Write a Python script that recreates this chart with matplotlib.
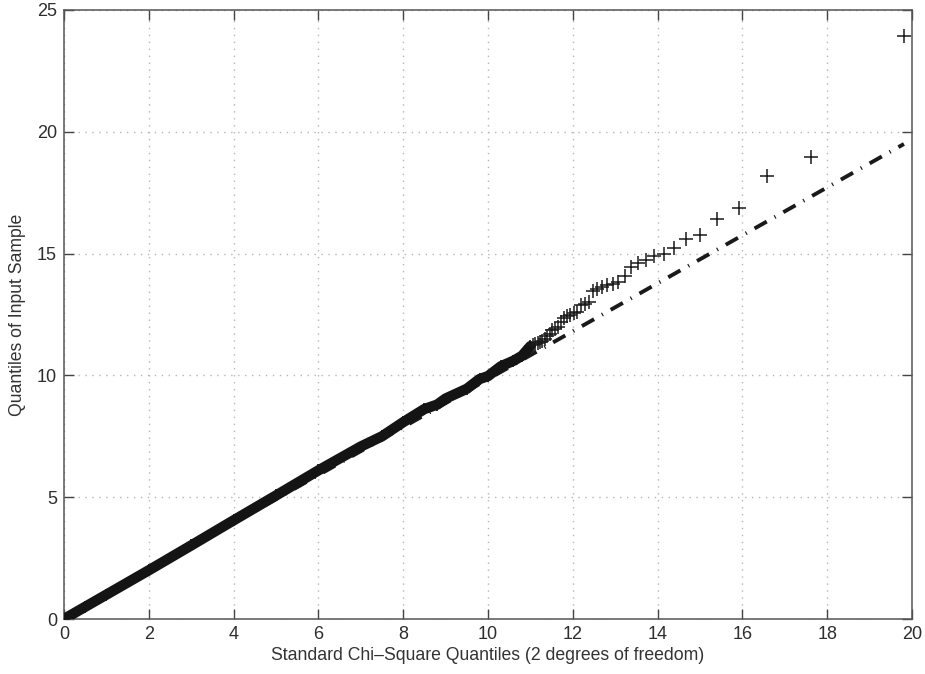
import matplotlib
matplotlib.use("Agg")
import matplotlib.pyplot as plt

plt.rcParams['font.family'] = ['Liberation Sans', 'DejaVu Sans']

# Body of the QQ plot: (theoretical quantile, sample quantile) pairs along the dense band
body_x = [0.0, 0.5, 1.0, 2.0, 3.0, 4.0, 5.0, 6.0, 7.0, 7.5, 8.0, 8.5, 8.8,
          9.0, 9.5, 9.8, 10.0, 10.3, 10.6, 10.8, 11.0]
body_y = [0.0, 0.5, 1.0, 2.0, 3.02, 4.05, 5.07, 6.1, 7.08, 7.5, 8.08, 8.62, 8.8,
          9.05, 9.45, 9.85, 9.97, 10.37, 10.6, 10.8, 11.2]

# Upper tail: individual order statistics (largest first)
tail_x = [19.81, 17.61, 16.59, 15.92, 15.41, 15.01, 14.68, 14.39, 14.14, 13.92,
          13.72, 13.54, 13.37, 13.22, 13.07, 12.94, 12.81, 12.70, 12.58, 12.48,
          12.38, 12.28, 12.19, 12.11, 12.02, 11.94, 11.86, 11.79, 11.72, 11.65,
          11.58, 11.52, 11.46, 11.40, 11.34, 11.28, 11.22, 11.17, 11.12, 11.07]
tail_y = [23.95, 18.95, 18.2, 16.88, 16.4, 15.75, 15.6, 15.25, 15.0, 14.92,
          14.75, 14.6, 14.45, 14.1, 13.85, 13.75, 13.7, 13.62, 13.55, 13.45,
          13.0, 12.95, 12.9, 12.6, 12.55, 12.5, 12.42, 12.34, 12.2, 12.0,
          11.9, 11.86, 11.7, 11.6, 11.5, 11.42, 11.38, 11.33, 11.28, 11.25]

# Reference line through the quartiles, extended over the data range
ref_x = [0.0, 19.81]
ref_y = [0.0, 19.5]

x_ticks = [0, 2, 4, 6, 8, 10, 12, 14, 16, 18, 20]
y_ticks = [0, 5, 10, 15, 20, 25]

fig = plt.figure(figsize=(9.25, 6.74), dpi=100)
ax = fig.add_axes([64 / 925, 1 - 619 / 674, (912 - 64) / 925, (619 - 10) / 674])

ax.plot(ref_x, ref_y, color='#1a1a1a', lw=2.8,
        linestyle=(0, (3.6, 2.3, 0.3, 2.3)), zorder=2)
ax.plot(body_x, body_y, color='#141414', lw=7.5, solid_capstyle='round',
        solid_joinstyle='round', zorder=3)
ax.plot(body_x, body_y, linestyle='none', marker='+', ms=9, mew=1.2,
        color='#141414', zorder=3)
ax.plot(tail_x, tail_y, linestyle='none', marker='+', ms=9.5, mew=1.1,
        color='#1a1a1a', zorder=4)

ax.set_xlim(0, 20)
ax.set_ylim(0, 25)
ax.set_xticks(x_ticks)
ax.set_yticks(y_ticks)
ax.grid(True, linestyle=(0, (1, 4)), color='#b5b5b5', lw=1.0)
ax.set_axisbelow(True)

ax.tick_params(direction='in', length=7, width=1.0, color='#444444',
               labelsize=13, labelcolor='#2e2e2e', top=True, right=True, pad=5)
for s in ax.spines.values():
    s.set_color('#555555')
    s.set_linewidth(1.1)

ax.set_xlabel('Standard Chi\u2013Square Quantiles (2 degrees of freedom)',
              fontsize=12.7, color='#333333', labelpad=3)
ax.set_ylabel('Quantiles of Input Sample', fontsize=12.7, color='#333333',
              labelpad=8)

fig.savefig('out.png', dpi=100, facecolor='white')
